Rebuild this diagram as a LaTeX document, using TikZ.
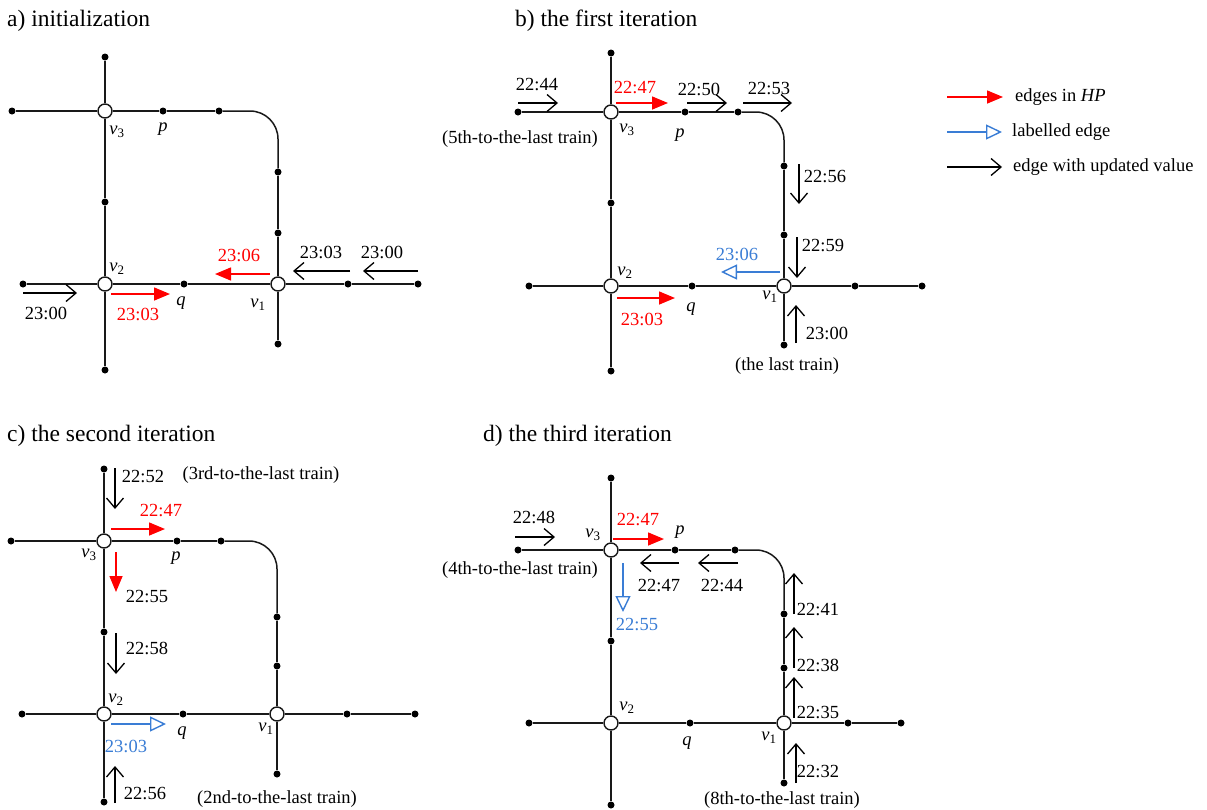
\documentclass[tikz,border=0pt]{standalone}
\usepackage{fontspec}
\setmainfont{Liberation Serif}
\usetikzlibrary{arrows.meta}
\definecolor{labblue}{RGB}{58,125,213}
\newcommand\vsub[1]{\textit{v}\textsubscript{#1}}
\tikzset{
  trk/.style={line width=1.5pt, black!90},
  dot/.style={circle, fill=black, inner sep=0pt, minimum size=7pt},
  stn/.style={circle, draw=black!90, fill=white, line width=1.4pt, inner sep=0pt, minimum size=14pt},
  hp/.style={red, line width=1.5pt, -{Triangle[length=16pt,width=13pt]}},
  lbl/.style={labblue, line width=1.4pt, -{Triangle[open,length=16pt,width=15pt]}},
  upd/.style={black, line width=1.3pt, -{Straight Barb[length=10pt,width=17pt]}},
  txt/.style={font=\fontsize{18.5}{20}\selectfont, inner sep=0pt},
  captxt/.style={font=\fontsize{23.5}{26}\selectfont, inner sep=0pt, anchor=base west},
}
\begin{document}
\begin{tikzpicture}[x=1pt,y=-1pt]
\useasboundingbox (0,0) rectangle (1207,809);

% ================= captions =================
\node[captxt] (capa) at (7,26) {a) initialization};
\node[captxt] (capb) at (515,26) {b) the first iteration};
\node[captxt] (capc) at (7,441) {c) the second iteration};
\node[captxt] (capd) at (483,441) {d) the third iteration};

% ================= panel a =================
\node[stn] (a3) at (105,111) {};
\node[dot] (a3t) at (105,57) {};
\node[dot] (a3l) at (12,111) {};
\node[dot] (ap) at (163,111) {};
\node[dot] (a3r) at (219,111) {};
\coordinate (ac) at (278,111);
\node[dot] (ar1) at (278,172) {};
\node[dot] (ar2) at (278,233) {};
\node[stn] (a1) at (278,284) {};
\node[stn] (a2) at (105,284) {};
\node[dot] (am) at (105,202) {};
\node[dot] (a2b) at (105,370) {};
\node[dot] (a2l) at (23,284) {};
\node[dot] (aq) at (184,284) {};
\node[dot] (ae1) at (348,284) {};
\node[dot] (ae2) at (418,284) {};
\node[dot] (a1b) at (278,344) {};
\draw[trk] (a3t) -- (a3) -- (am) -- (a2) -- (a2b);
\draw[trk] (a3l) -- (a3) -- (ap) -- (a3r);
\draw[trk, rounded corners=28pt] (a3r) -- (ac) -- (ar1);
\draw[trk] (ar1) -- (ar2) -- (a1) -- (a1b);
\draw[trk] (a2l) -- (a2) -- (aq) -- (a1) -- (ae1) -- (ae2);
\node[txt] (av3) at (117,132) {\vsub{3}};
\node[txt] (apl) at (163,129) {\textit{p}};
\node[txt] (av2) at (117,269) {\vsub{2}};
\node[txt] (aql) at (181,303) {\textit{q}};
\node[txt] (av1) at (258,305) {\vsub{1}};
\coordinate (aA1) at (270,274); \coordinate (aA2) at (215,274);
\draw[hp] (aA1) -- (aA2);
\node[txt, red] (aT1) at (239,255) {23:06};
\coordinate (aB1) at (350,271); \coordinate (aB2) at (293,271);
\draw[upd] (aB1) -- (aB2);
\node[txt] (aT2) at (321,252) {23:03};
\coordinate (aC1) at (418,271); \coordinate (aC2) at (363,271);
\draw[upd] (aC1) -- (aC2);
\node[txt] (aT3) at (382,252) {23:00};
\coordinate (aD1) at (23,293); \coordinate (aD2) at (77,293);
\draw[upd] (aD1) -- (aD2);
\node[txt] (aT4) at (46,313) {23:00};
\coordinate (aE1) at (111,294); \coordinate (aE2) at (170,294);
\draw[hp] (aE1) -- (aE2);
\node[txt, red] (aT5) at (138,314) {23:03};

% ================= panel b =================
\node[stn] (b3) at (611,112) {};
\node[dot] (b3t) at (611,53) {};
\node[dot] (b3l) at (518,112) {};
\node[dot] (bp) at (685,112) {};
\node[dot] (b3r) at (738,112) {};
\coordinate (bc) at (784,112);
\node[dot] (br1) at (784,166) {};
\node[dot] (br2) at (784,235) {};
\node[stn] (b1) at (784,286) {};
\node[stn] (b2) at (611,286) {};
\node[dot] (bm) at (611,203) {};
\node[dot] (b2b) at (611,371) {};
\node[dot] (b2l) at (529,286) {};
\node[dot] (bq) at (692,286) {};
\node[dot] (be1) at (855,286) {};
\node[dot] (be2) at (922,286) {};
\node[dot] (b1b) at (784,345) {};
\draw[trk] (b3t) -- (b3) -- (bm) -- (b2) -- (b2b);
\draw[trk] (b3l) -- (b3) -- (bp) -- (b3r);
\draw[trk, rounded corners=28pt] (b3r) -- (bc) -- (br1);
\draw[trk] (br1) -- (br2) -- (b1) -- (b1b);
\draw[trk] (b2l) -- (b2) -- (bq) -- (b1) -- (be1) -- (be2);
\node[txt] (bv3) at (627,130) {\vsub{3}};
\node[txt] (bpl) at (680,135) {\textit{p}};
\node[txt] (bv2) at (625,273) {\vsub{2}};
\node[txt] (bql) at (691,309) {\textit{q}};
\node[txt] (bv1) at (770,297) {\vsub{1}};
\coordinate (bA1) at (518,103); \coordinate (bA2) at (558,103);
\draw[upd] (bA1) -- (bA2);
\node[txt] (bT1) at (537,85) {22:44};
\node[txt, anchor=east] (bN1) at (598,139) {(5th-to-the-last train)};
\coordinate (bB1) at (616,103); \coordinate (bB2) at (668,103);
\draw[hp] (bB1) -- (bB2);
\node[txt, red] (bT2) at (635,88) {22:47};
\coordinate (bC1) at (687,103); \coordinate (bC2) at (727,103);
\draw[upd] (bC1) -- (bC2);
\node[txt] (bT3) at (699,89) {22:50};
\coordinate (bD1) at (743,103); \coordinate (bD2) at (792,103);
\draw[upd] (bD1) -- (bD2);
\node[txt] (bT4) at (769,89) {22:53};
\coordinate (bE1) at (799,164); \coordinate (bE2) at (799,204);
\draw[upd] (bE1) -- (bE2);
\node[txt] (bT5) at (825,177) {22:56};
\coordinate (bF1) at (797,237); \coordinate (bF2) at (797,278);
\draw[upd] (bF1) -- (bF2);
\node[txt] (bT6) at (823,246) {22:59};
\coordinate (bG1) at (780,272); \coordinate (bG2) at (721,272);
\draw[lbl] (bG1) -- (bG2);
\node[txt, labblue] (bT7) at (737,254) {23:06};
\coordinate (bH1) at (617,298); \coordinate (bH2) at (675,298);
\draw[hp] (bH1) -- (bH2);
\node[txt, red] (bT8) at (642,319) {23:03};
\coordinate (bI1) at (796,343); \coordinate (bI2) at (796,305);
\draw[upd] (bI1) -- (bI2);
\node[txt] (bT9) at (827,333) {23:00};
\node[txt] (bN2) at (787,366) {(the last train)};

% ================= legend =================
\coordinate (gA1) at (947,97); \coordinate (gA2) at (1003,97);
\draw[hp] (gA1) -- (gA2);
\node[txt, anchor=west] (gT1) at (1015,97) {edges in \textit{HP}};
\coordinate (gB1) at (947,132); \coordinate (gB2) at (1002,132);
\draw[lbl] (gB1) -- (gB2);
\node[txt, anchor=west] (gT2) at (1012,132) {labelled edge};
\coordinate (gC1) at (947,167); \coordinate (gC2) at (1002,167);
\draw[upd] (gC1) -- (gC2);
\node[txt, anchor=west] (gT3) at (1013,167) {edge with updated value};

% ================= panel c =================
\node[stn] (c3) at (104,541) {};
\node[dot] (c3t) at (104,469) {};
\node[dot] (c3l) at (11,541) {};
\node[dot] (cp) at (177,541) {};
\node[dot] (c3r) at (221,541) {};
\coordinate (cc) at (277,541);
\node[dot] (cr1) at (277,617) {};
\node[dot] (cr2) at (277,666) {};
\node[stn] (c1) at (277,714) {};
\node[stn] (c2) at (104,714) {};
\node[dot] (cm) at (104,632) {};
\node[dot] (c2b) at (104,802) {};
\node[dot] (c2l) at (22,714) {};
\node[dot] (cq) at (183,714) {};
\node[dot] (ce1) at (347,714) {};
\node[dot] (ce2) at (415,714) {};
\node[dot] (c1b) at (277,774) {};
\draw[trk] (c3t) -- (c3) -- (cm) -- (c2) -- (c2b);
\draw[trk] (c3l) -- (c3) -- (cp) -- (c3r);
\draw[trk, rounded corners=28pt] (c3r) -- (cc) -- (cr1);
\draw[trk] (cr1) -- (cr2) -- (c1) -- (c1b);
\draw[trk] (c2l) -- (c2) -- (cq) -- (c1) -- (ce1) -- (ce2);
\node[txt] (cv3) at (89,555) {\vsub{3}};
\node[txt] (cpl) at (176,558) {\textit{p}};
\node[txt] (cv2) at (116,700) {\vsub{2}};
\node[txt] (cql) at (182,733) {\textit{q}};
\node[txt] (cv1) at (266,729) {\vsub{1}};
\coordinate (cA1) at (115,468); \coordinate (cA2) at (115,509);
\draw[upd] (cA1) -- (cA2);
\node[txt] (cT1) at (143,476) {22:52};
\node[txt] (cN1) at (261,475) {(3rd-to-the-last train)};
\coordinate (cB1) at (111,529); \coordinate (cB2) at (165,529);
\draw[hp] (cB1) -- (cB2);
\node[txt, red] (cT2) at (161,510) {22:47};
\coordinate (cC1) at (116,552); \coordinate (cC2) at (116,592);
\draw[hp] (cC1) -- (cC2);
\node[txt] (cT3) at (147,596) {22:55};
\coordinate (cD1) at (116,633); \coordinate (cD2) at (116,674);
\draw[upd] (cD1) -- (cD2);
\node[txt] (cT4) at (147,648) {22:58};
\coordinate (cE1) at (111,724); \coordinate (cE2) at (166,724);
\draw[lbl] (cE1) -- (cE2);
\node[txt, labblue] (cT5) at (126,746) {23:03};
\coordinate (cF1) at (115,803); \coordinate (cF2) at (115,766);
\draw[upd] (cF1) -- (cF2);
\node[txt] (cT6) at (145,793) {22:56};
\node[txt] (cN2) at (277,799) {(2nd-to-the-last train)};

% ================= panel d =================
\node[stn] (d3) at (611,550) {};
\node[dot] (d3t) at (611,478) {};
\node[dot] (d3l) at (518,550) {};
\node[dot] (dp) at (675,550) {};
\node[dot] (d3r) at (735,550) {};
\coordinate (dc) at (784,550);
\node[dot] (dr1) at (784,614) {};
\node[dot] (dr2) at (784,668) {};
\node[stn] (d1) at (784,723) {};
\node[stn] (d2) at (611,723) {};
\node[dot] (dm) at (611,641) {};
\node[dot] (d2b) at (611,805) {};
\node[dot] (d2l) at (529,723) {};
\node[dot] (dq) at (690,723) {};
\node[dot] (de1) at (848,723) {};
\node[dot] (de2) at (901,723) {};
\node[dot] (d1b) at (784,783) {};
\draw[trk] (d3t) -- (d3) -- (dm) -- (d2) -- (d2b);
\draw[trk] (d3l) -- (d3) -- (dp) -- (d3r);
\draw[trk, rounded corners=28pt] (d3r) -- (dc) -- (dr1);
\draw[trk] (dr1) -- (dr2) -- (d1) -- (d1b);
\draw[trk] (d2l) -- (d2) -- (dq) -- (d1) -- (de1) -- (de2);
\node[txt] (dv3) at (593,535) {\vsub{3}};
\node[txt] (dpl) at (680,532) {\textit{p}};
\node[txt] (dv2) at (627,708) {\vsub{2}};
\node[txt] (dql) at (687,743) {\textit{q}};
\node[txt] (dv1) at (769,738) {\vsub{1}};
\coordinate (dA1) at (515,537); \coordinate (dA2) at (555,537);
\draw[upd] (dA1) -- (dA2);
\node[txt] (dT1) at (534,517) {22:48};
\node[txt, anchor=east] (dN1) at (598,570) {(4th-to-the-last train)};
\coordinate (dB1) at (613,539); \coordinate (dB2) at (664,539);
\draw[hp] (dB1) -- (dB2);
\node[txt, red] (dT2) at (638,519) {22:47};
\coordinate (dC1) at (679,563); \coordinate (dC2) at (640,563);
\draw[upd] (dC1) -- (dC2);
\node[txt] (dT3) at (659,585) {22:47};
\coordinate (dD1) at (738,563); \coordinate (dD2) at (698,563);
\draw[upd] (dD1) -- (dD2);
\node[txt] (dT4) at (722,585) {22:44};
\coordinate (dE1) at (623,563); \coordinate (dE2) at (623,612);
\draw[lbl] (dE1) -- (dE2);
\node[txt, labblue] (dT5) at (637,624) {22:55};
\coordinate (dF1) at (794,614); \coordinate (dF2) at (794,573);
\draw[upd] (dF1) -- (dF2);
\node[txt] (dT6) at (818,609) {22:41};
\coordinate (dG1) at (794,668); \coordinate (dG2) at (794,627);
\draw[upd] (dG1) -- (dG2);
\node[txt] (dT7) at (818,665) {22:38};
\coordinate (dH1) at (794,718); \coordinate (dH2) at (794,677);
\draw[upd] (dH1) -- (dH2);
\node[txt] (dT8) at (818,712) {22:35};
\coordinate (dI1) at (796,783); \coordinate (dI2) at (796,743);
\draw[upd] (dI1) -- (dI2);
\node[txt] (dT9) at (818,771) {22:32};
\node[txt] (dN2) at (782,800) {(8th-to-the-last train)};
\end{tikzpicture}
\end{document}
